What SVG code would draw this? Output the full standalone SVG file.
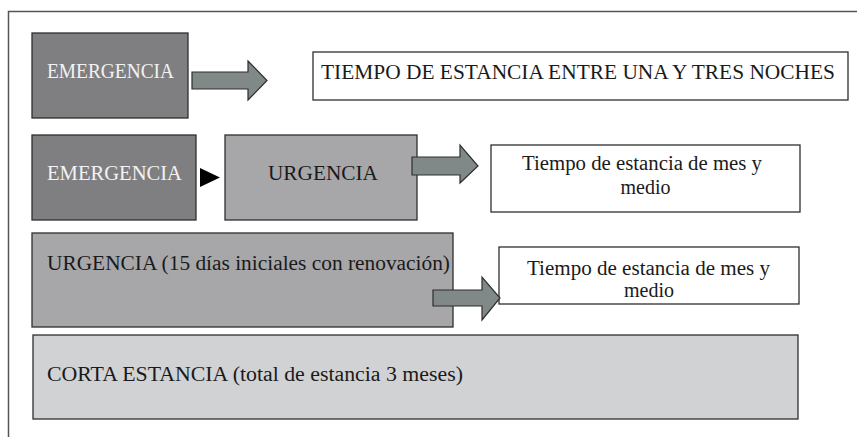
<svg xmlns="http://www.w3.org/2000/svg" width="857" height="437" viewBox="0 0 857 437">
<style>
text{font-family:"Liberation Serif","Times New Roman",serif;font-size:20px;fill:#1a1a1a}
.dark{fill:#7f7f81;stroke:#2e2e2e;stroke-width:1.3}
.mid{fill:#a7a7aa;stroke:#2e2e2e;stroke-width:1.3}
.light{fill:#d1d2d4;stroke:#2e2e2e;stroke-width:1.3}
.white{fill:#ffffff;stroke:#2e2e2e;stroke-width:1.3}
.arrow{fill:#808987;stroke:#2e2e2e;stroke-width:1.2}
text.inv{fill:#f2f2f2}
</style>
<rect width="857" height="437" fill="#ffffff"/>
<g id="frame">
<path d="M8.5,437 V11.5 H857" fill="none" stroke="#555" stroke-width="1.5"/>
</g>
<g id="emergencia1">
<rect class="dark" x="32" y="33" width="156" height="85"/>
<text class="inv" x="47" y="78" textLength="127" lengthAdjust="spacingAndGlyphs">EMERGENCIA</text>
</g>
<g id="tiempo1">
<rect class="white" x="313" y="52" width="535" height="48"/>
<text x="321" y="79" textLength="514" lengthAdjust="spacingAndGlyphs">TIEMPO DE ESTANCIA ENTRE UNA Y TRES NOCHES</text>
</g>
<g id="emergencia2">
<rect class="dark" x="32" y="135" width="164" height="85"/>
<text class="inv" x="47" y="180" textLength="135" lengthAdjust="spacingAndGlyphs">EMERGENCIA</text>
</g>
<g id="urgencia2">
<rect class="mid" x="225" y="135" width="192" height="85"/>
<text x="268" y="180" textLength="110" lengthAdjust="spacingAndGlyphs">URGENCIA</text>
</g>
<g id="tiempo2">
<rect class="white" x="491" y="145" width="309" height="67"/>
<text x="522" y="170" textLength="240" lengthAdjust="spacingAndGlyphs">Tiempo de estancia de mes y</text>
<text x="645.5" y="194" text-anchor="middle">medio</text>
</g>
<g id="urgencia3">
<rect class="mid" x="32" y="233" width="421" height="94"/>
<text x="47" y="270" textLength="403" lengthAdjust="spacingAndGlyphs">URGENCIA (15 días iniciales con renovación)</text>
</g>
<g id="tiempo3">
<rect class="white" x="499" y="247" width="300" height="57"/>
<text x="527" y="275" textLength="243" lengthAdjust="spacingAndGlyphs">Tiempo de estancia de mes y</text>
<text x="649" y="297" text-anchor="middle">medio</text>
</g>
<g id="corta">
<rect class="light" x="33" y="335" width="765" height="84"/>
<text x="47" y="381" textLength="416" lengthAdjust="spacingAndGlyphs">CORTA ESTANCIA (total de estancia 3 meses)</text>
</g>
<g id="connectors">
<polygon class="arrow" points="192,72 248,72 248,61 267,80.5 248,100 248,89 192,89"/>
<polygon fill="#000" points="200,168 220,177.5 200,187"/>
<polygon class="arrow" points="412,157 460,157 460,145 478,166 460,183 460,175 412,175"/>
<polygon class="arrow" points="433,290 482,290 482,277 500,298 482,320 482,306 433,306"/>
</g>
</svg>
